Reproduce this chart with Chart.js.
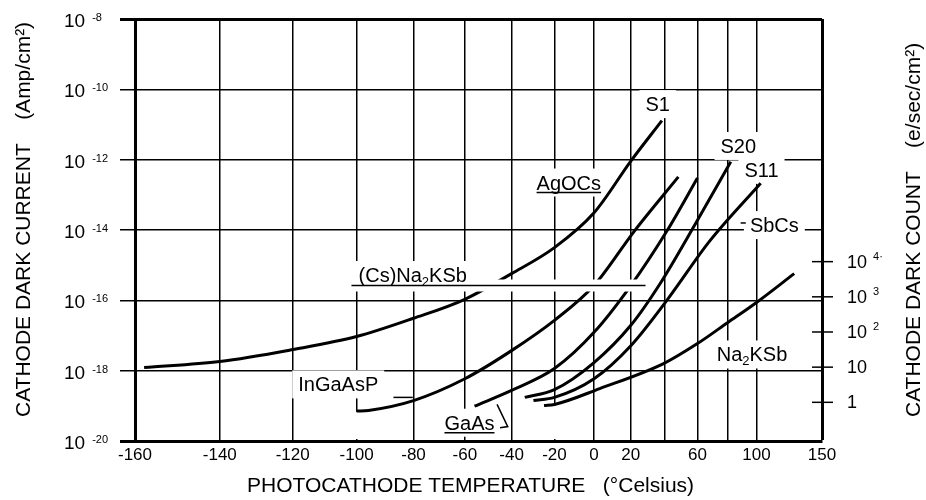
<!DOCTYPE html>
<html>
<head>
<meta charset="utf-8">
<title>Cathode dark current vs temperature</title>
<script src="https://cdn.jsdelivr.net/npm/chart.js@4.4.1/dist/chart.umd.min.js"></script>
<style>
  body { margin: 0; background: #fff; }
  canvas { display: block; }
</style>
</head>
<body>
<canvas id="chart" width="926" height="500"></canvas>
<script>
// temperatures in deg C, currents as log10(A/cm2)
const gridTemps = [-160, -140, -120, -100, -80, -60, -40, -20, 0, 20, 40, 60, 80, 100, 150];
const tickLabelTemps = [-160, -140, -120, -100, -80, -60, -40, -20, 0, 20, 60, 100, 150];
const currentExps = [-20, -18, -16, -14, -12, -10, -8];
const countExps = [0, 1, 2, 3, 4];
const countTickText = ['1', '10', '10^2', '10^3', '10^4·'];

const s1Temps = [-158, -140, -120, -100, -80, -60, -40, -20, 0, 20, 38];
const s1Logs = [-17.91, -17.74, -17.40, -17.03, -16.51, -15.97, -15.24, -14.50, -13.51, -12.04, -10.89];

const ingaaspTemps = [-100, -96, -80, -60, -40, -20, 0, 22, 48];
const ingaaspLogs = [-19.15, -19.13, -18.85, -18.23, -17.43, -16.57, -15.58, -14.03, -12.49];

const gaasTemps = [-56, -40, -20, 0, 20, 41, 60];
const gaasLogs = [-19.01, -18.56, -17.94, -16.91, -15.58, -14.03, -12.52];

const s20Temps = [-34, -20, 0, 20, 37, 59, 82];
const s20Logs = [-18.76, -18.54, -17.77, -16.71, -15.52, -13.80, -12.06];

const s11Temps = [-30, -20, 0, 20, 41, 68, 103];
const s11Logs = [-18.85, -18.76, -18.23, -17.29, -16.00, -14.31, -12.67];

const na2kTemps = [-25, -20, 3, 39, 60, 80, 100, 128];
const na2kLogs = [-18.99, -18.96, -18.51, -17.80, -17.23, -16.63, -16.06, -15.24];

// curve labels (centre, in deg C / log10 A)
const labelTexts = ['S1', 'S20', 'S11', 'SbCs', 'AgOCs', '(Cs)Na_2KSb', 'InGaAsP', 'GaAs', 'Na_2KSb'];
const labelTemps = [35.5, 87.2, 103.6, 113, -12.9, -80.3, -106, -58.1, 96.8];
const labelLogs = [-10.42, -11.61, -12.29, -13.86, -12.65, -15.28, -18.39, -19.48, -17.54];
const underlined = ['AgOCs', 'GaAs'];

const csPointer = [[-101.7, -15.58], [28.4, -15.58]];
const leaders = [
  [[-87.3, -18.76], [-80.3, -18.76]],
  [[-46.4, -18.96], [-41.7, -19.59], [-45.1, -19.62]],
  [[88.8, -13.80], [92.4, -13.80]]
];
// pieces of grid lines left blank in the original (temp, from log, to log)
const gridGaps = [[-100, -19.17, -20], [-20, -19.0, -20]];

const K0 = 273.15;
const countShift = 18.9; // log10 offset of the e/sec/cm2 axis against A/cm2
const FONT = '"Liberation Sans", Arial, Helvetica, sans-serif';

function toPoints(temps, logs) {
  return temps.map((t, i) => ({ x: t + K0, y: Math.pow(10, logs[i]) }));
}

function curve(temps, logs) {
  return {
    data: toPoints(temps, logs),
    borderColor: '#000',
    borderWidth: 3,
    pointRadius: 0,
    fill: false,
    cubicInterpolationMode: 'monotone'
  };
}

function toPx(chart, t, l) {
  return [chart.scales.x.getPixelForValue(t + K0), chart.scales.y.getPixelForValue(Math.pow(10, l))];
}

// '_x' = subscript char, '^rest' = superscript
function parseRich(str) {
  const parts = [];
  let buf = '';
  for (let i = 0; i < str.length; i++) {
    const c = str[i];
    if (c === '_' || c === '^') {
      if (buf) parts.push({ s: buf, k: 0 });
      buf = '';
      if (c === '_') { parts.push({ s: str[i + 1], k: 1 }); i++; }
      else { parts.push({ s: str.slice(i + 1), k: -1 }); i = str.length; }
    } else {
      buf += c;
    }
  }
  if (buf) parts.push({ s: buf, k: 0 });
  return parts;
}

function measureRich(ctx, parts, size, small, gap) {
  let w = 0;
  parts.forEach(p => {
    ctx.font = `${p.k ? small : size}px ${FONT}`;
    if (p.k === -1) w += gap;
    w += ctx.measureText(p.s).width;
  });
  return w;
}

function drawRich(ctx, parts, x, y, size, small, gap, sub, sup) {
  parts.forEach(p => {
    ctx.font = `${p.k ? small : size}px ${FONT}`;
    if (p.k === -1) x += gap;
    const dy = p.k === 1 ? sub : (p.k === -1 ? sup : 0);
    ctx.fillText(p.s, x, y + dy);
    x += ctx.measureText(p.s).width;
  });
  return x;
}

function polyline(ctx, pts) {
  ctx.beginPath();
  pts.forEach((p, i) => i ? ctx.lineTo(p[0], p[1]) : ctx.moveTo(p[0], p[1]));
  ctx.stroke();
}

const paperPlugin = {
  id: 'paper',
  beforeDatasetsDraw(chart) {
    const ctx = chart.ctx;
    ctx.save();
    ctx.fillStyle = '#fff';
    labelTexts.forEach((txt, i) => {
      const [cx, cy] = toPx(chart, labelTemps[i], labelLogs[i]);
      const w = measureRich(ctx, parseRich(txt), 20, 13, 0);
      ctx.fillRect(cx - w / 2 - 6, cy - 14, w + 12, 28);
    });
    gridGaps.forEach(g => {
      const [gx, gy1] = toPx(chart, g[0], g[1]);
      const gy2 = toPx(chart, g[0], g[2])[1];
      ctx.fillRect(gx - 2, gy1, 4, gy2 - gy1 - 2);
    });
    ctx.restore();
  },
  afterDatasetsDraw(chart) {
    const ctx = chart.ctx;
    ctx.save();
    ctx.lineCap = 'butt';
    // pointer line under (Cs)Na2KSb, cutting the curves it crosses
    const cs = csPointer.map(p => toPx(chart, p[0], p[1]));
    ctx.strokeStyle = '#fff';
    ctx.lineWidth = 12;
    polyline(ctx, [[cs[0][0] + 4, cs[0][1]], [cs[1][0] - 4, cs[1][1]]]);
    ctx.strokeStyle = '#000';
    ctx.lineWidth = 1.5;
    polyline(ctx, cs);
    leaders.forEach(l => polyline(ctx, l.map(p => toPx(chart, p[0], p[1]))));

    ctx.fillStyle = '#000';
    ctx.textAlign = 'left';
    ctx.textBaseline = 'alphabetic';
    labelTexts.forEach((txt, i) => {
      const [cx, cy] = toPx(chart, labelTemps[i], labelLogs[i]);
      const parts = parseRich(txt);
      const w = measureRich(ctx, parts, 20, 13, 0);
      drawRich(ctx, parts, cx - w / 2, cy + 7, 20, 13, 0, 4, 0);
      if (underlined.includes(txt)) {
        ctx.lineWidth = 1.5;
        polyline(ctx, [[cx - w / 2, cy + 10], [cx + w / 2, cy + 10]]);
      }
    });
    ctx.restore();
  },
  afterDraw(chart) {
    const { ctx, chartArea, scales } = chart;
    ctx.save();
    ctx.fillStyle = '#000';
    ctx.strokeStyle = '#000';
    ctx.textBaseline = 'alphabetic';

    // bottom tick labels
    ctx.textAlign = 'center';
    ctx.font = `17px ${FONT}`;
    tickLabelTemps.forEach(t => {
      ctx.fillText(String(t), scales.x.getPixelForValue(t + K0), chartArea.bottom + 19);
    });

    // left tick labels 10^-n
    ctx.textAlign = 'left';
    currentExps.forEach(e => {
      const py = scales.y.getPixelForValue(Math.pow(10, e));
      drawRich(ctx, parseRich('10^' + e), 64, py + 8, 19, 11, 7, 0, -6);
    });

    // right count axis
    ctx.lineWidth = 1.5;
    countExps.forEach((e, i) => {
      const py = scales.y2.getPixelForValue(Math.pow(10, e));
      polyline(ctx, [[chartArea.right - 10, py], [chartArea.right + 11, py]]);
      drawRich(ctx, parseRich(countTickText[i]), chartArea.right + 25, py + 6, 18, 11, 6, 0, -8);
    });

    // axis titles
    ctx.font = `21px ${FONT}`;
    ctx.fillText('PHOTOCATHODE TEMPERATURE   (°Celsius)', 247, 492);

    ctx.save();
    ctx.translate(30, 417);
    ctx.rotate(-Math.PI / 2);
    ctx.fillText('CATHODE DARK CURRENT    (Amp/cm²)', 0, 0);
    ctx.restore();

    ctx.save();
    ctx.translate(920, 417);
    ctx.rotate(-Math.PI / 2);
    ctx.fillText('CATHODE DARK COUNT    (e/sec/cm²)', 0, 0);
    ctx.restore();

    ctx.restore();
  }
};

new Chart(document.getElementById('chart'), {
  type: 'line',
  data: {
    datasets: [
      curve(s1Temps, s1Logs),
      curve(ingaaspTemps, ingaaspLogs),
      curve(gaasTemps, gaasLogs),
      curve(s20Temps, s20Logs),
      curve(s11Temps, s11Logs),
      curve(na2kTemps, na2kLogs)
    ]
  },
  options: {
    responsive: false,
    animation: false,
    layout: { padding: { top: 19, left: 0, right: 0, bottom: 0 } },
    plugins: { legend: { display: false }, tooltip: { enabled: false } },
    scales: {
      x: {
        type: 'logarithmic',
        min: -160 + K0,
        max: 150 + K0,
        afterBuildTicks: s => { s.ticks = gridTemps.map(t => ({ value: t + K0 })); },
        afterFit: s => { s.height = 59; },
        ticks: { display: false },
        grid: {
          color: '#000',
          lineWidth: c => (c.index === gridTemps.length - 1 ? 3 : 1.5),
          drawTicks: false
        },
        border: { display: true, color: '#000', width: 3 }
      },
      y: {
        type: 'logarithmic',
        position: 'left',
        min: 1e-20,
        max: 1e-8,
        afterBuildTicks: s => { s.ticks = currentExps.map(e => ({ value: Math.pow(10, e) })); },
        afterFit: s => { s.width = 135; },
        ticks: { display: false },
        grid: {
          color: '#000',
          lineWidth: c => (c.index === 0 || c.index === currentExps.length - 1 ? 3 : 1.5),
          drawTicks: true,
          tickLength: 15
        },
        border: { display: true, color: '#000', width: 3 }
      },
      y2: {
        type: 'logarithmic',
        position: 'right',
        min: Math.pow(10, currentExps[0] + countShift),
        max: Math.pow(10, currentExps[currentExps.length - 1] + countShift),
        afterBuildTicks: s => { s.ticks = countExps.map(e => ({ value: Math.pow(10, e) })); },
        afterFit: s => { s.width = 104; },
        ticks: { display: false },
        grid: { display: false },
        border: { display: false }
      }
    }
  },
  plugins: [paperPlugin]
});
</script>
</body>
</html>
